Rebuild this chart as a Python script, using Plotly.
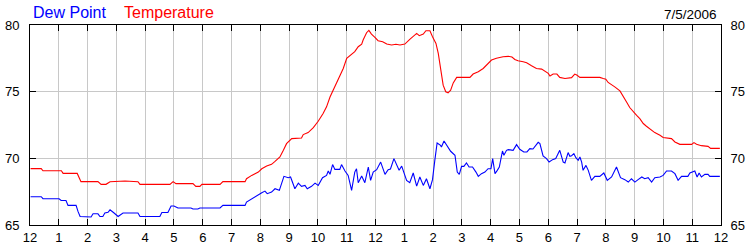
import plotly.graph_objects as go

# Hours since midnight (0..24) and readings
temp_hours = [0.02, 0.39, 0.45, 1.09, 1.15, 1.64, 1.77, 2.36, 2.47, 2.64, 2.78, 3.30, 3.75, 3.82,
              4.86, 4.97, 5.07, 5.66, 5.76, 5.90, 5.97, 6.60, 6.70, 7.47, 7.52, 7.70, 7.93, 8.05,
              8.22, 8.39, 8.51, 8.68, 8.80, 8.91, 9.09, 9.26, 9.43, 9.49, 9.66, 9.84, 10.01, 10.18,
              10.30, 10.42, 10.59, 10.76, 10.88, 11.00, 11.17, 11.28, 11.40, 11.52, 11.57, 11.69,
              11.77, 11.86, 11.98, 12.09, 12.25, 12.39, 12.56, 12.71, 12.85, 13.02, 13.19, 13.31,
              13.43, 13.52, 13.66, 13.75, 13.89, 13.98, 14.10, 14.18, 14.26, 14.35, 14.44, 14.52,
              14.61, 14.70, 14.82, 14.93, 15.28, 15.39, 15.57, 15.74, 15.91, 16.03, 16.20, 16.43,
              16.61, 16.74, 16.84, 16.95, 17.13, 17.25, 17.42, 17.59, 17.77, 17.88, 18.00, 18.06,
              18.17, 18.30, 18.40, 18.58, 18.81, 18.92, 18.99, 19.10, 19.79, 19.91, 20.00, 20.08,
              20.20, 20.31, 20.49, 20.60, 20.72, 20.83, 20.95, 21.07, 21.18, 21.30, 21.41, 21.59,
              21.70, 21.88, 21.99, 22.28, 22.40, 22.57, 22.98, 23.06, 23.15, 23.32, 23.55, 23.64,
              23.96]
temperature = [69.23, 69.23, 69.07, 69.07, 68.87, 68.87, 68.25, 68.25, 68.05, 68.05, 68.25, 68.30,
               68.25, 68.05, 68.05, 68.25, 68.10, 68.10, 67.90, 67.90, 68.05, 68.05, 68.25, 68.25,
               68.47, 68.72, 68.97, 69.22, 69.42, 69.55, 69.77, 70.10, 70.60, 71.10, 71.48, 71.53,
               71.53, 71.78, 71.93, 72.30, 72.78, 73.36, 73.86, 74.60, 75.36, 76.11, 76.74, 77.50,
               77.80, 78.00, 78.37, 78.57, 78.87, 79.42, 79.60, 79.32, 79.07, 78.82, 78.75, 78.57,
               78.50, 78.55, 78.50, 78.57, 78.92, 79.17, 79.37, 79.20, 79.32, 79.57, 79.57, 79.12,
               78.62, 77.87, 76.62, 75.49, 74.99, 74.91, 75.11, 75.66, 76.07, 76.07, 76.07, 76.32,
               76.49, 76.74, 77.07, 77.37, 77.50, 77.62, 77.65, 77.60, 77.42, 77.32, 77.25, 77.17,
               76.94, 76.74, 76.69, 76.56, 76.37, 76.17, 76.32, 76.32, 76.07, 75.99, 76.05, 76.32,
               76.25, 76.07, 76.07, 75.99, 75.94, 75.69, 75.54, 75.36, 75.06, 74.61, 74.23, 73.81,
               73.48, 73.23, 72.98, 72.61, 72.41, 72.11, 71.93, 71.73, 71.56, 71.48, 71.23, 71.05,
               71.05, 71.18, 71.05, 70.95, 70.90, 70.75, 70.75]

dew_hours = [0.02, 0.39, 0.45, 1.01, 1.08, 1.25, 1.32, 1.60, 1.67, 1.74, 2.12, 2.19, 2.36, 2.43,
             2.53, 2.60, 2.71, 2.78, 2.92, 3.06, 3.23, 3.75, 3.82, 4.51, 4.58, 4.79, 4.90, 5.00,
             5.14, 5.59, 5.66, 5.83, 5.90, 6.60, 6.70, 7.47, 7.52, 7.70, 7.87, 8.05, 8.16, 8.24,
             8.39, 8.51, 8.66, 8.82, 8.97, 9.05, 9.20, 9.32, 9.43, 9.55, 9.63, 9.78, 9.90, 10.01,
             10.16, 10.30, 10.36, 10.42, 10.51, 10.59, 10.76, 10.82, 10.94, 11.05, 11.17, 11.28,
             11.34, 11.40, 11.52, 11.63, 11.75, 11.83, 11.92, 12.04, 12.18, 12.33, 12.44, 12.52,
             12.64, 12.75, 12.82, 12.91, 13.08, 13.19, 13.31, 13.43, 13.54, 13.66, 13.77, 13.89,
             13.98, 14.06, 14.14, 14.26, 14.29, 14.38, 14.49, 14.61, 14.76, 14.84, 14.91, 14.99,
             15.07, 15.16, 15.25, 15.37, 15.49, 15.57, 15.68, 15.80, 15.91, 16.01, 16.07, 16.15,
             16.23, 16.30, 16.41, 16.46, 16.55, 16.61, 16.78, 16.90, 17.01, 17.15, 17.26, 17.36,
             17.47, 17.59, 17.65, 17.71, 17.82, 17.94, 18.03, 18.15, 18.26, 18.40, 18.52, 18.58,
             18.69, 18.75, 18.81, 18.89, 18.96, 19.04, 19.10, 19.16, 19.21, 19.31, 19.39, 19.50,
             19.62, 19.79, 19.93, 20.05, 20.20, 20.37, 20.51, 20.66, 20.78, 20.89, 21.01, 21.12,
             21.25, 21.35, 21.47, 21.59, 21.70, 21.88, 21.99, 22.11, 22.28, 22.40, 22.51, 22.63,
             22.85, 22.92, 23.09, 23.17, 23.24, 23.32, 23.44, 23.55, 23.61, 23.96]
dew_point = [67.12, 67.12, 66.97, 66.97, 66.84, 66.84, 66.47, 66.47, 66.00, 65.64, 65.60, 65.84,
             65.84, 65.64, 65.64, 65.90, 65.95, 66.14, 65.90, 65.64, 65.90, 65.90, 65.64, 65.64,
             65.94, 65.94, 66.43, 66.43, 66.28, 66.28, 66.20, 66.20, 66.28, 66.28, 66.47, 66.47,
             66.72, 66.97, 67.14, 67.42, 67.54, 67.35, 67.47, 67.72, 67.60, 68.65, 68.55, 68.60,
             67.72, 68.14, 67.90, 67.97, 67.72, 67.90, 68.14, 67.97, 68.55, 68.72, 69.05, 68.80,
             69.53, 69.17, 69.17, 69.53, 69.05, 68.72, 67.60, 68.97, 69.22, 68.17, 68.67, 68.17,
             69.35, 68.35, 68.97, 69.15, 69.72, 68.80, 69.15, 69.20, 69.98, 69.40, 69.10, 69.42,
             68.35, 68.17, 68.90, 67.92, 68.60, 67.97, 68.47, 67.72, 68.40, 69.85, 71.15, 70.97,
             70.85, 71.30, 70.90, 70.53, 70.23, 68.97, 68.80, 69.40, 69.40, 69.65, 69.35, 69.35,
             68.97, 68.65, 68.85, 68.97, 69.22, 69.22, 69.98, 68.85, 69.10, 69.35, 70.55, 70.23,
             70.60, 70.65, 70.60, 71.03, 70.68, 70.48, 70.48, 70.73, 70.70, 71.10, 71.20, 71.10,
             70.18, 69.98, 69.72, 69.90, 69.98, 70.60, 69.72, 69.65, 70.43, 70.15, 70.20, 70.35,
             70.05, 69.85, 70.10, 69.72, 69.10, 69.47, 69.10, 68.35, 68.65, 68.65, 68.90, 68.35,
             68.60, 69.35, 68.55, 68.40, 68.22, 68.47, 68.22, 68.40, 68.60, 68.47, 68.55, 68.22,
             68.55, 68.60, 68.72, 69.05, 69.05, 68.85, 68.35, 68.65, 68.65, 68.90, 69.05, 68.60,
             68.90, 68.60, 68.80, 68.80, 68.65, 68.65]

hour_ticks = list(range(25))
hour_labels = ["12", "1", "2", "3", "4", "5", "6", "7", "8", "9", "10", "11",
               "12", "1", "2", "3", "4", "5", "6", "7", "8", "9", "10", "11", "12"]
y_ticks = [65, 70, 75, 80]
date_text = "7/5/2006"

FONT = "Liberation Sans, Arial, sans-serif"

fig = go.Figure()
fig.add_trace(go.Scatter(x=dew_hours, y=dew_point, mode="lines", name="Dew Point",
                         line=dict(color="#0000ff", width=1.1)))
fig.add_trace(go.Scatter(x=temp_hours, y=temperature, mode="lines", name="Temperature",
                         line=dict(color="#ff0000", width=1.1)))
# invisible trace to carry right-hand axis
fig.add_trace(go.Scatter(x=[None], y=[None], yaxis="y2", showlegend=False))

axis_common = dict(showline=True, linecolor="black", linewidth=1, automargin=False,
                   ticks="inside", ticklen=6, tickcolor="black", tickwidth=1,
                   tickfont=dict(family=FONT, size=13, color="black"), zeroline=False)

fig.update_layout(
    width=750, height=250,
    margin=dict(l=30, r=29, t=25, b=25, autoexpand=False),
    paper_bgcolor="white", plot_bgcolor="white",
    showlegend=False,
    xaxis=dict(range=[0, 24], tickvals=hour_ticks, ticktext=hour_labels,
               showgrid=True, gridcolor="#c8c8c8", gridwidth=1, mirror="ticks",
               ticklabelstandoff=0, **axis_common),
    yaxis=dict(range=[65, 80], tickvals=y_ticks, showgrid=True, gridcolor="#c8c8c8",
               gridwidth=1, mirror="ticks", ticklabelstandoff=7, **axis_common),
    yaxis2=dict(range=[65, 80], tickvals=y_ticks, overlaying="y", side="right",
                showgrid=False, ticklabelstandoff=6, **axis_common),
    annotations=[
        dict(text="Dew Point", x=0, y=1, xref="paper", yref="paper", xshift=1, yshift=2,
             xanchor="left", yanchor="bottom", showarrow=False,
             font=dict(family=FONT, size=16, color="#0000ff")),
        dict(text="Temperature", x=0, y=1, xref="paper", yref="paper", xshift=92, yshift=2,
             xanchor="left", yanchor="bottom", showarrow=False,
             font=dict(family=FONT, size=16, color="#ff0000")),
        dict(text=date_text, x=1, y=1, xref="paper", yref="paper", xshift=-2, yshift=1,
             xanchor="right", yanchor="bottom", showarrow=False,
             font=dict(family=FONT, size=13.5, color="black")),
    ],
)

fig.write_html("out.html")
